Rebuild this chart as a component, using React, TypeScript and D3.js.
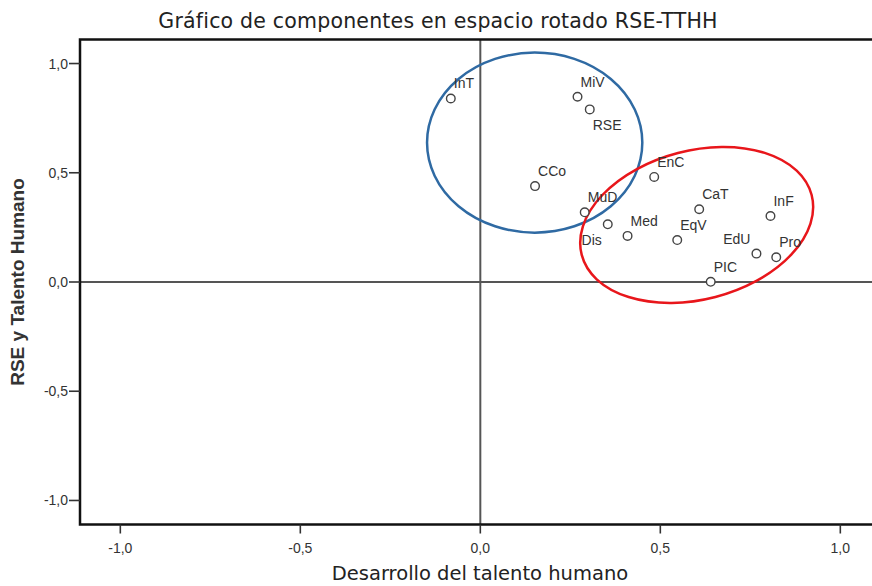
import * as d3 from "d3";

// component labels and their rotated loadings
const components = ["InT", "MiV", "RSE", "CCo", "EnC", "MuD", "Dis", "Med", "EqV", "CaT", "InF", "EdU", "Pro", "PIC"];
const devTalent = [-0.082, 0.27, 0.304, 0.152, 0.483, 0.29, 0.354, 0.409, 0.547, 0.608, 0.806, 0.767, 0.822, 0.64];
const rseTalent = [0.84, 0.848, 0.79, 0.439, 0.481, 0.319, 0.264, 0.211, 0.192, 0.333, 0.302, 0.13, 0.113, 0.001];

const axisTicks = [-1, -0.5, 0, 0.5, 1];

// hand-drawn groupings (data units)
const groupCx = [0.151, 0.601];
const groupCy = [0.638, 0.261];
const groupRx = [0.299, 0.33];
const groupRy = [0.412, 0.3405];
const groupTilt = [0, -14.6];
const groupColor = ["#2f6aa3", "#e8161b"];

// where the label sits relative to its point (default: above right)
const labelSide: Record<string, string> = { RSE: "br", Dis: "bl", EdU: "tl" };

const W = 872;
const H = 586;
const m = { l: 80, t: 39.5, b: 524.5 };

export default function App() {
  const x = d3.scaleLinear().domain([-1.112, 1.112]).range([m.l, m.l + 2.224 * 360]);
  const y = d3.scaleLinear().domain([-1.11, 1.11]).range([m.b, m.t]);
  const fmt = (v: number) => d3.format(".1f")(v).replace("−", "-").replace(".", ",");
  const sans = "'Liberation Sans', Arial, sans-serif";
  const titleFont = "'DejaVu Sans', Verdana, sans-serif";
  const unitX = x(1) - x(0);
  const unitY = y(0) - y(1);

  return (
    <svg
      width={W}
      height={H}
      style={{ position: "absolute", left: 0, top: 0, display: "block", background: "#fff" }}
    >
      <rect width={W} height={H} fill="#fff" />
      <text x={438} y={28} textAnchor="middle" fontFamily={titleFont} fontSize={20.5} letterSpacing={0.2} fill="#222">
        Gráfico de componentes en espacio rotado RSE-TTHH
      </text>

      {/* zero reference lines */}
      <line x1={x(0)} x2={x(0)} y1={m.t} y2={m.b} stroke="#555" strokeWidth={2} />
      <line x1={m.l} x2={W + 20} y1={y(0)} y2={y(0)} stroke="#555" strokeWidth={2} />

      {/* frame */}
      <rect x={m.l} y={m.t} width={x(1.112) - m.l} height={m.b - m.t} fill="none" stroke="#111" strokeWidth={2.5} />

      {/* y axis */}
      {axisTicks.map((t) => (
        <g key={"y" + t}>
          <line x1={m.l - 11} x2={m.l} y1={y(t)} y2={y(t)} stroke="#333" strokeWidth={1.6} />
          <text x={m.l - 12} y={y(t) + 5} textAnchor="end" fontFamily={sans} fontSize={14} fill="#333">
            {fmt(t)}
          </text>
        </g>
      ))}
      {/* x axis */}
      {axisTicks.map((t) => (
        <g key={"x" + t}>
          <line x1={x(t)} x2={x(t)} y1={m.b} y2={m.b + 9} stroke="#333" strokeWidth={1.6} />
          <text x={x(t)} y={m.b + 28} textAnchor="middle" fontFamily={sans} fontSize={14} fill="#333">
            {fmt(t)}
          </text>
        </g>
      ))}

      <text x={480} y={580} textAnchor="middle" fontFamily={titleFont} fontSize={19.5} fill="#222">
        Desarrollo del talento humano
      </text>
      <text
        transform={`translate(24, ${y(0)}) rotate(-90)`}
        textAnchor="middle"
        fontFamily={sans}
        fontSize={19}
        fontWeight="bold"
        fill="#333"
      >
        RSE y Talento Humano
      </text>

      {/* group ellipses */}
      {groupCx.map((cx, i) => (
        <ellipse
          key={"g" + i}
          cx={x(cx)}
          cy={y(groupCy[i])}
          rx={groupRx[i] * unitX}
          ry={groupRy[i] * unitY}
          transform={`rotate(${groupTilt[i]} ${x(cx)} ${y(groupCy[i])})`}
          fill="none"
          stroke={groupColor[i]}
          strokeWidth={2.5}
        />
      ))}

      {/* points */}
      {components.map((c, i) => {
        const px = x(devTalent[i]);
        const py = y(rseTalent[i]);
        const side = labelSide[c] ?? "tr";
        const left = side === "bl" || side === "tl";
        const below = side === "bl" || side === "br";
        return (
          <g key={c}>
            <circle cx={px} cy={py} r={4.3} fill="#fff" stroke="#444" strokeWidth={1.4} />
            <text
              x={left ? px - 6 : px + 3}
              y={below ? py + 21 : py - 10}
              textAnchor={left ? "end" : "start"}
              fontFamily={sans}
              fontSize={14}
              fill="#333"
            >
              {c}
            </text>
          </g>
        );
      })}
    </svg>
  );
}
